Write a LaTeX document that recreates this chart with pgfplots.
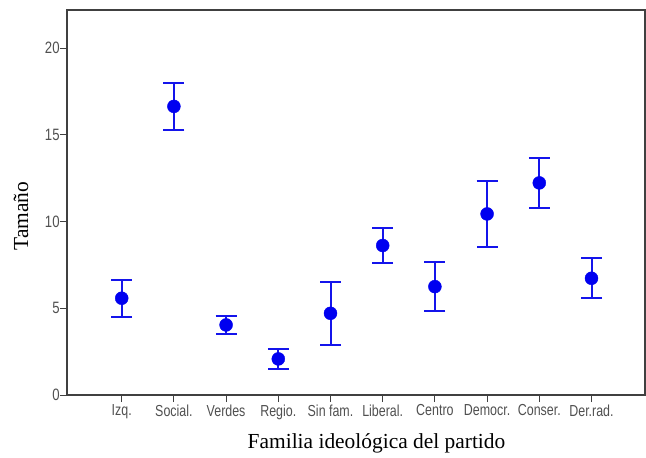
\documentclass[border=0pt]{standalone}
\usepackage{pgfplots}
\pgfplotsset{compat=1.18}
\usepackage{pgfplotstable}
\usepackage{fontspec}
\setmainfont{Liberation Serif}
\newfontfamily\arial{Liberation Sans}

\definecolor{dotblue}{RGB}{0,0,240}
\definecolor{barblue}{RGB}{20,20,235}
\definecolor{framegray}{RGB}{64,64,64}
\definecolor{ticktext}{RGB}{80,80,80}

% mean size and half-width of the interval per party family
\pgfplotstableread{
x  y      e
0  5.58   1.06
1  16.64  1.35
2  4.04   0.53
3  2.08   0.60
4  4.71   1.80
5  8.62   1.00
6  6.25   1.40
7  10.44  1.90
8  12.23  1.46
9  6.73   1.16
}\tamano

\begin{document}
\begin{tikzpicture}
\begin{axis}[
  at={(0,0)}, anchor=south west,
  scale only axis,
  width=578bp, height=385bp,
  xmin=-1.048, xmax=10.025,
  ymin=0, ymax=22.2,
  xtick={0,...,9},
  xticklabels={Izq., Social., Verdes, Regio., Sin fam., Liberal., Centro, Democr., Conser., Der.rad.},
  ytick={0,5,10,15,20},
  xtick pos=bottom, ytick pos=left,
  tick align=outside,
  major tick length=7bp,
  tick style={framegray, line width=1bp},
  axis line style={framegray, line width=1.2bp},
  x tick label style={font=\arial\fontsize{16}{17}\selectfont, text=ticktext, xscale=0.78, yshift=1bp},
  y tick label style={font=\arial\fontsize{16.5}{17}\selectfont, text=ticktext, xscale=0.8, xshift=3bp},
  /pgf/number format/assume math mode=true,
  xlabel={Familia ideológica del partido},
  ylabel={Tamaño},
  xlabel style={font=\fontsize{21.5}{24}\selectfont, at={(axis description cs:0.5355,-0.1247)}, anchor=center},
  ylabel style={font=\fontsize{21.5}{24}\selectfont, at={(axis description cs:-0.0796,0.465)}, anchor=center},
  clip=false,
]
\addplot[
  only marks,
  mark=*,
  mark size=6.5bp,
  mark options={fill=dotblue, draw=dotblue},
  error bars/.cd,
    y dir=both, y explicit,
    error mark=-,
    error bar style={barblue, line width=2bp},
    error mark options={barblue, line width=2bp, mark size=10.5bp, rotate=90},
] table[x=x, y=y, y error=e] {\tamano};
\end{axis}
\pgfresetboundingbox
\path[use as bounding box] (-67bp,-63bp) rectangle (579bp,395bp);
\end{tikzpicture}
\end{document}
